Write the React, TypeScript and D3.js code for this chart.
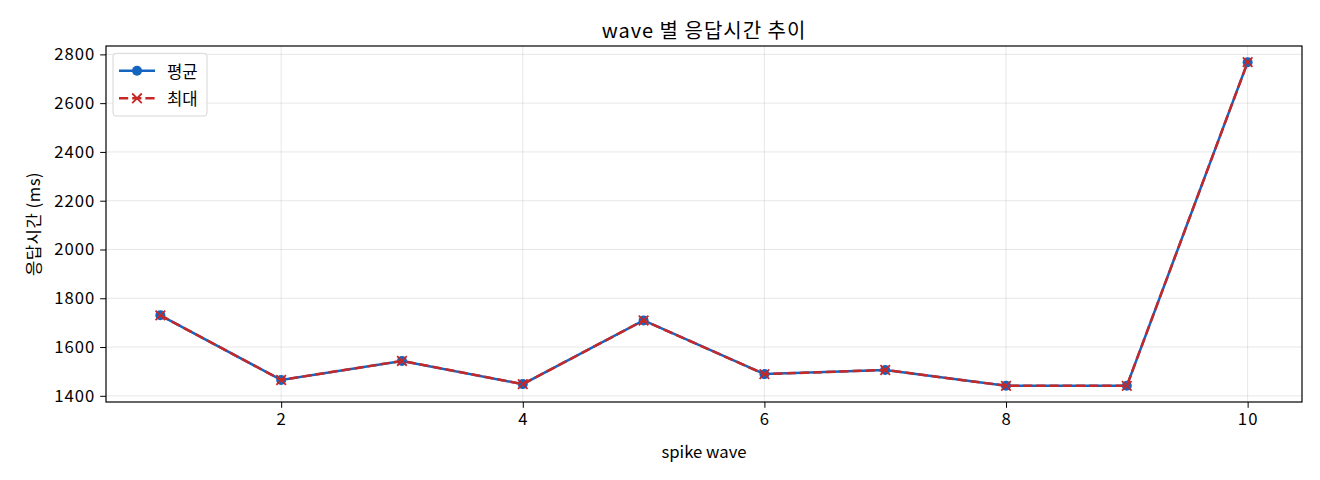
import { useEffect, useRef } from 'react';
import * as d3 from 'd3';

// wave index and response times (ms)
const waves = [1, 2, 3, 4, 5, 6, 7, 8, 9, 10];
const avgMs = [1730, 1465, 1543, 1448, 1709, 1489, 1506, 1441, 1441, 2768];
const maxMs = [1730, 1465, 1543, 1448, 1709, 1489, 1506, 1441, 1441, 2768];
const xTicks = [2, 4, 6, 8, 10];
const yTicks = [1400, 1600, 1800, 2000, 2200, 2400, 2600, 2800];

const FONT = '"Noto Sans CJK KR", "DejaVu Sans", sans-serif';
const BLUE = '#1565c0';
const RED = '#c62828';
const LW = 2.5;
const DASH = '9.2,4';

export default function App() {
    const svgRef = useRef<SVGSVGElement>(null);

    useEffect(() => {
        if (!svgRef.current) return;

        const svg = d3.select(svgRef.current);
        svg.selectAll('*').remove();

        const width = 1320;
        const height = 480;
        const margin = { top: 46, right: 18, bottom: 78, left: 106 };
        const innerWidth = width - margin.left - margin.right;
        const innerHeight = height - margin.top - margin.bottom;

        // matplotlib-like 5% padding
        const xMin = d3.min(waves)!;
        const xMax = d3.max(waves)!;
        const xPad = (xMax - xMin) * 0.05;
        const allY = [...avgMs, ...maxMs];
        const yMin = d3.min(allY)!;
        const yMax = d3.max(allY)!;
        const yPad = (yMax - yMin) * 0.05;

        const xScale = d3.scaleLinear()
            .domain([xMin - xPad, xMax + xPad])
            .range([0, innerWidth]);

        const yScale = d3.scaleLinear()
            .domain([yMin - yPad, yMax + yPad])
            .range([innerHeight, 0]);

        const g = svg.append('g')
            .attr('transform', `translate(${margin.left},${margin.top})`);

        // Grid
        g.selectAll('.grid-x')
            .data(xTicks)
            .enter()
            .append('line')
            .attr('x1', d => xScale(d))
            .attr('x2', d => xScale(d))
            .attr('y1', 0)
            .attr('y2', innerHeight)
            .attr('stroke', '#b0b0b0')
            .attr('stroke-opacity', 0.3)
            .attr('stroke-width', 1);

        g.selectAll('.grid-y')
            .data(yTicks)
            .enter()
            .append('line')
            .attr('x1', 0)
            .attr('x2', innerWidth)
            .attr('y1', d => yScale(d))
            .attr('y2', d => yScale(d))
            .attr('stroke', '#b0b0b0')
            .attr('stroke-opacity', 0.3)
            .attr('stroke-width', 1);

        // Axes
        const xAxis = g.append('g')
            .attr('transform', `translate(0,${innerHeight})`)
            .call(d3.axisBottom(xScale).tickValues(xTicks).tickSize(5.8).tickPadding(5).tickFormat(d3.format('d')));
        const yAxis = g.append('g')
            .call(d3.axisLeft(yScale).tickValues(yTicks).tickSize(5.8).tickPadding(5).tickFormat(d3.format('d')));

        [xAxis, yAxis].forEach(ax => {
            ax.select('.domain').remove();
            ax.selectAll('line').attr('stroke', '#000').attr('stroke-width', 1);
            ax.selectAll('text')
                .attr('fill', '#000')
                .attr('font-size', '16.7px')
                .attr('letter-spacing', '1px')
                .attr('font-family', FONT);
        });

        // Frame
        g.append('rect')
            .attr('width', innerWidth)
            .attr('height', innerHeight)
            .attr('fill', 'none')
            .attr('stroke', '#000')
            .attr('stroke-width', 1.2);

        const line = (vals: number[]) => d3.line<number>()
            .x((_, i) => xScale(waves[i]))
            .y(d => yScale(d))(vals);

        // 평균 line + circle markers
        g.append('path')
            .attr('d', line(avgMs))
            .attr('fill', 'none')
            .attr('stroke', BLUE)
            .attr('stroke-width', LW);

        g.selectAll('.pt-avg')
            .data(avgMs)
            .enter()
            .append('circle')
            .attr('cx', (_, i) => xScale(waves[i]))
            .attr('cy', d => yScale(d))
            .attr('r', 5)
            .attr('fill', BLUE);

        // 최대 dashed line + x markers
        g.append('path')
            .attr('d', line(maxMs))
            .attr('fill', 'none')
            .attr('stroke', RED)
            .attr('stroke-width', LW)
            .attr('stroke-dasharray', DASH);

        const xMark = (cx: number, cy: number, s: number) =>
            `M${cx - s},${cy - s}L${cx + s},${cy + s}M${cx - s},${cy + s}L${cx + s},${cy - s}`;

        g.selectAll('.pt-max')
            .data(maxMs)
            .enter()
            .append('path')
            .attr('d', (d, i) => xMark(xScale(waves[i]), yScale(d), 4.8))
            .attr('stroke', RED)
            .attr('stroke-width', 1.8)
            .attr('fill', 'none');

        // Legend
        const legend = g.append('g').attr('transform', 'translate(7,7.3)');
        legend.append('rect')
            .attr('width', 94)
            .attr('height', 62.7)
            .attr('rx', 3)
            .attr('fill', '#fff')
            .attr('fill-opacity', 0.8)
            .attr('stroke', '#d6d6d6')
            .attr('stroke-width', 1);

        const entries = [
            { label: '평균', color: BLUE, dashed: false, marker: 'o' },
            { label: '최대', color: RED, dashed: true, marker: 'x' },
        ];

        entries.forEach((e, i) => {
            const y = 17.4 + i * 27.6;
            legend.append('line')
                .attr('x1', 6)
                .attr('x2', 42)
                .attr('y1', y)
                .attr('y2', y)
                .attr('stroke', e.color)
                .attr('stroke-width', LW)
                .attr('stroke-dasharray', e.dashed ? DASH : null);
            if (e.marker === 'o') {
                legend.append('circle')
                    .attr('cx', 24)
                    .attr('cy', y)
                    .attr('r', 5)
                    .attr('fill', e.color);
            } else {
                legend.append('path')
                    .attr('d', xMark(24, y, 4.8))
                    .attr('stroke', e.color)
                    .attr('stroke-width', 1.8);
            }
            legend.append('text')
                .attr('x', 54)
                .attr('y', y)
                .attr('dominant-baseline', 'central')
                .attr('font-size', '16.7px')
                .attr('font-family', FONT)
                .attr('fill', '#000')
                .text(e.label);
        });

        // Title and axis labels
        svg.append('text')
            .attr('x', margin.left + innerWidth / 2)
            .attr('y', 29)
            .attr('text-anchor', 'middle')
            .attr('dominant-baseline', 'central')
            .attr('font-size', '20px')
            .attr('letter-spacing', '1px')
            .attr('font-family', FONT)
            .attr('fill', '#000')
            .text('wave 별 응답시간 추이');

        svg.append('text')
            .attr('x', margin.left + innerWidth / 2)
            .attr('y', 451)
            .attr('text-anchor', 'middle')
            .attr('dominant-baseline', 'central')
            .attr('font-size', '16.7px')
            .attr('font-family', FONT)
            .attr('fill', '#000')
            .text('spike wave');

        svg.append('text')
            .attr('transform', `translate(33,${margin.top + innerHeight / 2}) rotate(-90)`)
            .attr('text-anchor', 'middle')
            .attr('dominant-baseline', 'central')
            .attr('font-size', '16.7px')
            .attr('letter-spacing', '0.5px')
            .attr('font-family', FONT)
            .attr('fill', '#000')
            .text('응답시간 (ms)');
    }, []);

    return (
        <svg
            ref={svgRef}
            width={1320}
            height={480}
            style={{ position: 'absolute', left: 0, top: 0, background: '#fff' }}
        />
    );
}
